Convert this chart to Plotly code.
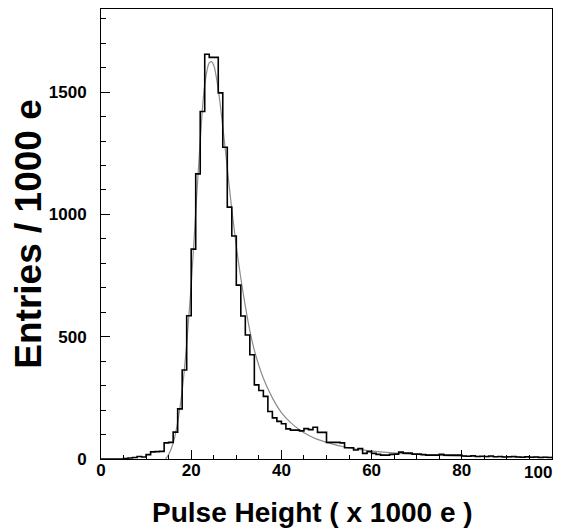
import plotly.graph_objects as go

# histogram: 1000 e bins from 0 to 100 (x 1000 e)
bin_edges = list(range(0, 101))
counts = [
    0, 0, 0, 0, 0, 2, 4, 6, 10, 8,
    18, 29, 30, 31, 66, 68, 110, 205, 364, 586,
    858, 1166, 1421, 1655, 1642, 1642, 1497, 1275, 1030, 912,
    711, 585, 507, 426, 303, 280, 256, 194, 168, 154,
    144, 123, 118, 118, 115, 124, 120, 130, 109, 109,
    68, 68, 68, 66, 46, 46, 37, 43, 23, 30,
    23, 19, 16, 16, 19, 20, 28, 24, 24, 20,
    20, 18, 16, 16, 16, 19, 16, 16, 16, 16,
    12, 11, 13, 10, 11, 10, 12, 9, 10, 8,
    9, 10, 8, 7, 9, 7, 8, 6, 7, 6,
]

# fitted curve (grey)
fit_x = [14.3, 15, 16, 17, 18, 19, 20, 21, 22, 23, 24, 24.5, 25, 26, 27, 28, 29,
         30, 31, 32, 33, 34, 36, 38, 40, 42, 44, 46, 48, 50, 54, 58, 62, 66,
         70, 80, 90, 100]
fit_y = [0, 18, 65, 150, 280, 470, 710, 1010, 1300, 1530, 1620, 1625, 1610,
         1510, 1360, 1190, 1020, 870, 740, 625, 525, 445, 330, 250, 190, 150,
         120, 97, 80, 68, 49, 37, 29, 23, 19, 12, 9, 7]

x_ticks = [0, 20, 40, 60, 80, 100]
x_ticktext = ["0", "20", "40", "60", "80", ""]  # "100" is placed by hand so it stays inside the page
y_ticks = [0, 500, 1000, 1500]

fig = go.Figure()

fig.add_trace(go.Scatter(x=fit_x, y=fit_y, mode="lines", line_shape="spline",
                         line=dict(color="#8c8c8c", width=1.2), hoverinfo="skip"))

# step outline, last value repeated so the last bin closes at 100
fig.add_trace(go.Scatter(x=bin_edges, y=counts + [counts[-1]], mode="lines",
                         line_shape="hv", line=dict(color="black", width=1.6)))

axis_font = dict(family="Liberation Sans", size=17, color="black", weight="bold")

fig.update_xaxes(range=[0, 100], tickvals=x_ticks, ticktext=x_ticktext,
                 ticks="inside", ticklen=9, tickwidth=1, tickcolor="black",
                 minor=dict(dtick=5, ticks="inside", ticklen=4, tickcolor="black"),
                 showline=True, linecolor="black", linewidth=1, mirror=True,
                 showgrid=False, zeroline=False, tickfont=axis_font, automargin=False,
                 ticklabelstandoff=-4)
fig.update_yaxes(range=[0, 1840], tickvals=y_ticks,
                 ticks="inside", ticklen=9, tickwidth=1, tickcolor="black",
                 minor=dict(dtick=100, ticks="inside", ticklen=5, tickcolor="black"),
                 showline=True, linecolor="black", linewidth=1, mirror=True,
                 showgrid=False, zeroline=False, tickfont=axis_font, ticklabelstandoff=10,
                 automargin=False,
                 title=dict(text="Entries / 1000 e", standoff=6,
                            font=dict(family="Liberation Sans", size=37, color="black", weight="bold")))

fig.add_annotation(x=x_ticks[-1], xref="x", y=0, yref="paper", text="100",
                   showarrow=False, xanchor="right", yanchor="top", xshift=2, yshift=-2,
                   font=axis_font)
fig.add_annotation(x=0.47, xref="paper", y=0, yref="paper", text="Pulse Height ( x 1000 e )",
                   showarrow=False, xanchor="center", yanchor="middle", yshift=-53,
                   font=dict(family="Liberation Sans", size=28, color="black", weight="bold"))

# page body adds 8px around the figure, so the figure is 8px smaller than the window
fig.update_layout(width=560, height=523, showlegend=False,
                  margin=dict(l=93, r=16, t=1, b=72),
                  plot_bgcolor="white", paper_bgcolor="white")

fig.write_html("out.html")
